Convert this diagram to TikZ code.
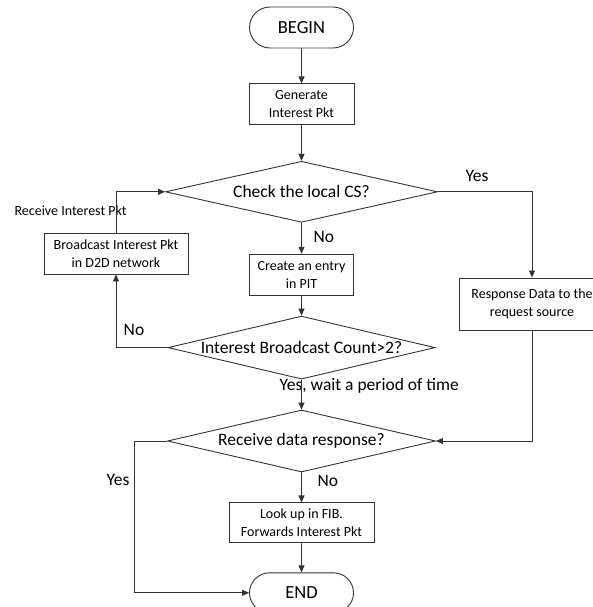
\documentclass[tikz,border=0pt]{standalone}
\usepackage{fontspec}
\setmainfont{Carlito}
\usetikzlibrary{positioning,shapes.geometric,shapes.misc,arrows.meta}

\begin{document}
\begin{tikzpicture}[x=1pt,y=-1pt,
    every node/.style={font=\fontsize{17.5}{21}\selectfont, text=black},
    flowline/.style={draw=black!80, line width=0.9pt},
    arrowline/.style={flowline, -{Triangle[length=7pt,width=6pt]}},
    terminal/.style={rounded rectangle, draw=black!80, line width=0.9pt,
        minimum width=104pt, minimum height=41pt, inner sep=0pt, font=\fontsize{18.5}{22}\selectfont},
    process/.style={rectangle, draw=black!80, line width=0.9pt, align=center,
        minimum height=41pt, inner sep=2pt, font=\fontsize{14}{18}\selectfont},
    decision/.style={diamond, draw=black!80, line width=0.9pt, inner sep=0pt, aspect=4.4},
    smalltext/.style={font=\fontsize{14}{18}\selectfont}]
    \useasboundingbox (0,0) rectangle (592,607);

    \node (begin)[terminal] at (301.5,27.5) {BEGIN};
    \node (gen)[process, minimum width=105pt, below = 35pt of begin] {Generate\\Interest Pkt};
    \node (check)[decision, minimum width=272pt, minimum height=61pt, below = 35.5pt of gen] {Check the local CS?};
    \node (create)[process, minimum width=104pt, below = 31pt of check] {Create an entry\\in PIT};
    \node (count)[decision, minimum width=267pt, minimum height=63pt, below = 20pt of create] {Interest Broadcast Count>2?};
    \node (recv)[decision, minimum width=268pt, minimum height=62pt, below = 30pt of count] {Receive data response?};
    \node (lookup)[process, minimum width=145pt, minimum height=40pt, below = 30pt of recv] {Look up in FIB.\\Forwards Interest Pkt};
    \node (end)[terminal, minimum height=40pt, below = 29pt of lookup] {END};
    \node (bcast)[process, minimum width=144pt] at (116,253.5) {Broadcast Interest Pkt\\in D2D network};
    \node (resp)[process, minimum width=146pt, minimum height=52pt] at (532,304) {Response Data to the\\request source};

    % labels
    \node (yes1) at (477,176) {Yes};
    \node (no1)[anchor=west] at (310,237) {No};
    \node (no2) at (134,330) {No};
    \node (rxlabel)[smalltext, anchor=west] at (11,211) {Receive Interest Pkt};
    \node (yes2)[anchor=west] at (276,386) {Yes, wait a period of time};
    \node (no3)[anchor=west] at (314,481) {No};
    \node (yes3)[anchor=east] at (133,480) {Yes};
    \coordinate (yesx) at (134,0);

    \draw[arrowline] (begin) -- (gen);
    \draw[arrowline] (gen) -- (check);
    \draw[arrowline] (check.east) -| (resp.north);
    \draw[arrowline] (check) -- (create);
    \draw[arrowline] (create) -- (count);
    \draw[arrowline] (count.west) -| (bcast.south);
    \draw[arrowline] (bcast.north) |- (check.west);
    \draw[arrowline] (count) -- (recv);
    \draw[arrowline] (resp.south) |- (recv.east);
    \draw[arrowline] (recv) -- (lookup);
    \draw[arrowline] (lookup) -- (end);
    \draw[arrowline] (recv.west) -- (recv.west -| yesx) |- (end.west);
\end{tikzpicture}
\end{document}
